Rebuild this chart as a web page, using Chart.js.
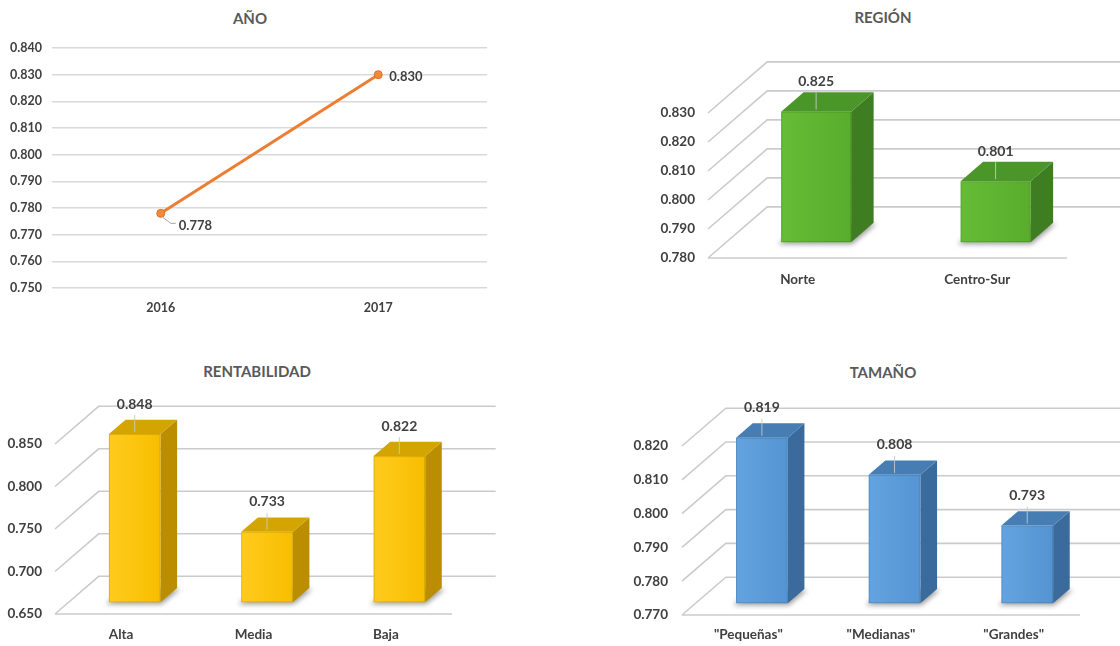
<!DOCTYPE html>
<html lang="es">
<head>
<meta charset="UTF-8">
<title>Índice por año, región, rentabilidad y tamaño</title>
<script src="https://cdn.jsdelivr.net/npm/chart.js"></script>
<style>
  html, body { margin: 0; padding: 0; background: #fff; overflow: hidden; }
  body { width: 1120px; height: 646px; position: relative; font-family: Lato, "Open Sans", sans-serif; }
  .box { position: absolute; }
  .ttl { position: absolute; width: 240px; margin-left: -120px; height: 18px; line-height: 18px; text-align: center;
         font-size: 15px; font-weight: bold; color: #595959; }
</style>
</head>
<body>
<div class="ttl" style="left:250px;top:9px">AÑO</div>
<div class="ttl" style="left:883px;top:8px">REGIÓN</div>
<div class="ttl" style="left:257px;top:362px">RENTABILIDAD</div>
<div class="ttl" style="left:883px;top:363px">TAMAÑO</div>

<div class="box" style="left:0;top:0;width:500px;height:320px"><canvas id="anio"></canvas></div>
<div class="box" style="left:620px;top:0;width:500px;height:320px"><canvas id="region"></canvas></div>
<div class="box" style="left:0;top:330px;width:520px;height:316px"><canvas id="rent"></canvas></div>
<div class="box" style="left:620px;top:330px;width:500px;height:316px"><canvas id="tamano"></canvas></div>

<script>
// ---- data ----
const anioLabels = ['2016', '2017'];
const anioValues = [0.778, 0.830];
const anioRange = [0.75, 0.84, 0.01];

const regionLabels = ['Norte', 'Centro-Sur'];
const regionValues = [0.825, 0.801];
const regionRange = [0.78, 0.83, 0.01];

const rentLabels = ['Alta', 'Media', 'Baja'];
const rentValues = [0.848, 0.733, 0.822];
const rentRange = [0.65, 0.85, 0.05];

const tamanoLabels = ['"Pequeñas"', '"Medianas"', '"Grandes"'];
const tamanoValues = [0.819, 0.808, 0.793];
const tamanoRange = [0.77, 0.82, 0.01];

Chart.defaults.font.family = 'Lato, "Open Sans", sans-serif';
Chart.defaults.font.weight = 'bold';
Chart.defaults.color = '#404040';
Chart.defaults.animation = false;
Chart.defaults.events = [];
Chart.defaults.plugins.legend.display = false;
Chart.defaults.plugins.tooltip.enabled = false;

const fmt = v => Number(v).toFixed(3);

// ---- line chart: AÑO ----
const lineLabels = {
  id: 'lineLabels',
  afterDatasetsDraw(chart) {
    const ctx = chart.ctx;
    const pts = chart.getDatasetMeta(0).data;
    ctx.save();
    ctx.font = 'bold 13px Lato, "Open Sans", sans-serif';
    ctx.fillStyle = '#404040';
    ctx.textBaseline = 'middle';
    pts.forEach((p, i) => {
      const txt = fmt(anioValues[i]);
      if (i === 0) {
        ctx.strokeStyle = '#a6a6a6';
        ctx.lineWidth = 1;
        ctx.beginPath();
        ctx.moveTo(p.x + 2, p.y + 4);
        ctx.lineTo(p.x + 10, p.y + 10);
        ctx.lineTo(p.x + 15, p.y + 10);
        ctx.stroke();
        ctx.fillText(txt, p.x + 18, p.y + 12);
      } else {
        ctx.fillText(txt, p.x + 11, p.y + 2);
      }
    });
    ctx.restore();
  }
};

new Chart(document.getElementById('anio'), {
  type: 'line',
  data: {
    labels: anioLabels,
    datasets: [{
      data: anioValues,
      borderColor: '#ED7D31',
      borderWidth: 3,
      pointRadius: 4,
      pointBackgroundColor: '#F08A3E',
      pointBorderColor: '#E0701F',
      pointBorderWidth: 1
    }]
  },
  options: {
    responsive: true,
    maintainAspectRatio: false,
    layout: { padding: { top: 48, right: 13, bottom: 0, left: 0 } },
    scales: {
      x: {
        offset: true,
        grid: { display: false, drawTicks: false },
        border: { display: false },
        ticks: { padding: 12, font: { size: 12.5 } },
        afterFit: s => { s.height = 32; }
      },
      y: {
        min: anioRange[0], max: anioRange[1],
        grid: { color: '#d9d9d9', lineWidth: 1.5, drawTicks: false },
        border: { display: false },
        ticks: { stepSize: anioRange[2], padding: 10, font: { size: 12.5 }, callback: fmt },
        afterFit: s => { s.width = 52; }
      }
    }
  },
  plugins: [lineLabels]
});

// ---- 3D column charts ----
const FRONT = 0.31;   // depth at which the bar front face sits
const DEPTH = 0.38;   // bar depth, as a share of the floor depth

function depthVec(chart) {
  const xs = chart.scales.x;
  const cat = (xs.right - xs.left) / chart.data.labels.length;
  return { dx: cat * 0.33, dy: -cat * 0.285 };
}

function poly(ctx, pts, fill) {
  ctx.beginPath();
  ctx.moveTo(pts[0][0], pts[0][1]);
  for (let i = 1; i < pts.length; i++) ctx.lineTo(pts[i][0], pts[i][1]);
  ctx.closePath();
  ctx.fillStyle = fill;
  ctx.fill();
}

const cube3d = {
  id: 'cube3d',
  beforeDatasetsDraw(chart) {
    const ctx = chart.ctx, ys = chart.scales.y, a = chart.chartArea;
    const { dx, dy } = depthVec(chart);
    ctx.save();
    ctx.strokeStyle = '#cbcbcb';
    ctx.lineWidth = 1.6;
    ys.ticks.forEach(t => {
      const py = ys.getPixelForValue(t.value);
      ctx.beginPath();
      ctx.moveTo(a.left, py);
      ctx.lineTo(a.left + dx, py + dy);
      ctx.lineTo(a.right + dx, py + dy);
      ctx.stroke();
    });
    const p0 = ys.getPixelForValue(ys.min);
    ctx.beginPath();
    ctx.moveTo(a.left, p0);
    ctx.lineTo(a.right, p0);
    ctx.stroke();
    ctx.restore();
  },
  afterDatasetsDraw(chart, args, opts) {
    const ctx = chart.ctx;
    const { dx, dy } = depthVec(chart);
    const ox = dx * FRONT, oy = dy * FRONT, bx = dx * DEPTH, by = dy * DEPTH;
    const values = chart.data.datasets[0].data;
    chart.getDatasetMeta(0).data.forEach((bar, i) => {
      const { x, y, base, width } = bar.getProps(['x', 'y', 'base', 'width'], true);
      const l = x - width / 2 + ox, r = x + width / 2 + ox;
      const t = y + oy, b = base + oy;

      // floor shadow
      ctx.save();
      ctx.filter = 'blur(2.5px)';
      poly(ctx, [[l - 3, b + 2], [r + 1, b + 2], [r + bx + 3, b + by + 1], [l + bx, b + by]], 'rgba(0,0,0,0.38)');
      ctx.restore();

      ctx.save();
      // right side
      poly(ctx, [[r, t], [r + bx, t + by], [r + bx, b + by], [r, b]], opts.side);
      // top
      poly(ctx, [[l, t], [l + bx, t + by], [r + bx, t + by], [r, t]], opts.top);
      // front
      const g = ctx.createLinearGradient(l, 0, r, 0);
      g.addColorStop(0, opts.frontLight);
      g.addColorStop(1, opts.front);
      poly(ctx, [[l, t], [r, t], [r, b], [l, b]], g);
      ctx.strokeStyle = 'rgba(0,0,0,0.12)';
      ctx.lineWidth = 1;
      ctx.strokeRect(l + 0.5, t + 0.5, r - l - 1, b - t - 1);

      // value label with leader line
      const cx = (l + r) / 2;
      const ly = t - 30;
      ctx.strokeStyle = 'rgba(200,200,200,0.9)';
      ctx.beginPath();
      ctx.moveTo(cx, ly + 11);
      ctx.lineTo(cx, t - 2);
      ctx.stroke();
      ctx.font = 'bold 14px Lato, "Open Sans", sans-serif';
      ctx.fillStyle = '#404040';
      ctx.textAlign = 'center';
      ctx.textBaseline = 'middle';
      ctx.fillText(fmt(values[i]), cx, ly);
      ctx.restore();
    });
  }
};

function bar3d(id, labels, values, range, frame, palette) {
  return new Chart(document.getElementById(id), {
    type: 'bar',
    data: {
      labels,
      datasets: [{
        data: values,
        base: range[0],
        backgroundColor: 'rgba(0,0,0,0)',
        borderWidth: 0,
        barPercentage: 0.39,
        categoryPercentage: 1
      }]
    },
    options: {
      responsive: true,
      maintainAspectRatio: false,
      layout: { padding: { top: frame.top, right: frame.right, bottom: 0, left: 0 } },
      plugins: { cube3d: palette },
      scales: {
        x: {
          grid: { display: false, drawTicks: false },
          border: { display: false },
          ticks: { padding: frame.labelPad, font: { size: 13.5 } },
          afterFit: s => { s.height = frame.axisH; }
        },
        y: {
          min: range[0], max: range[1],
          grid: { display: false, drawTicks: false },
          border: { display: false },
          ticks: { stepSize: range[2], padding: frame.tickPad, font: { size: 13.5 }, callback: fmt },
          afterFit: s => { s.width = frame.axisW; }
        }
      }
    },
    plugins: [cube3d]
  });
}

const green = { front: '#58AE2C', frontLight: '#66BC36', side: '#3E7D21', top: '#4B9628' };
const gold = { front: '#F7BE00', frontLight: '#FFCB1E', side: '#BA8E00', top: '#D4A500' };
const blue = { front: '#5494D2', frontLight: '#63A3E0', side: '#3A6B9C', top: '#467DB3' };

bar3d('region', regionLabels, regionValues, regionRange,
  { top: 113, right: 53, axisW: 88, axisH: 62, tickPad: 13, labelPad: 14 }, green);
bar3d('rent', rentLabels, rentValues, rentRange,
  { top: 114, right: 68, axisW: 55, axisH: 32, tickPad: 13, labelPad: 13 }, gold);
bar3d('tamano', tamanoLabels, tamanoValues, tamanoRange,
  { top: 116, right: 40, axisW: 62, axisH: 31, tickPad: 14, labelPad: 12 }, blue);
</script>
</body>
</html>
